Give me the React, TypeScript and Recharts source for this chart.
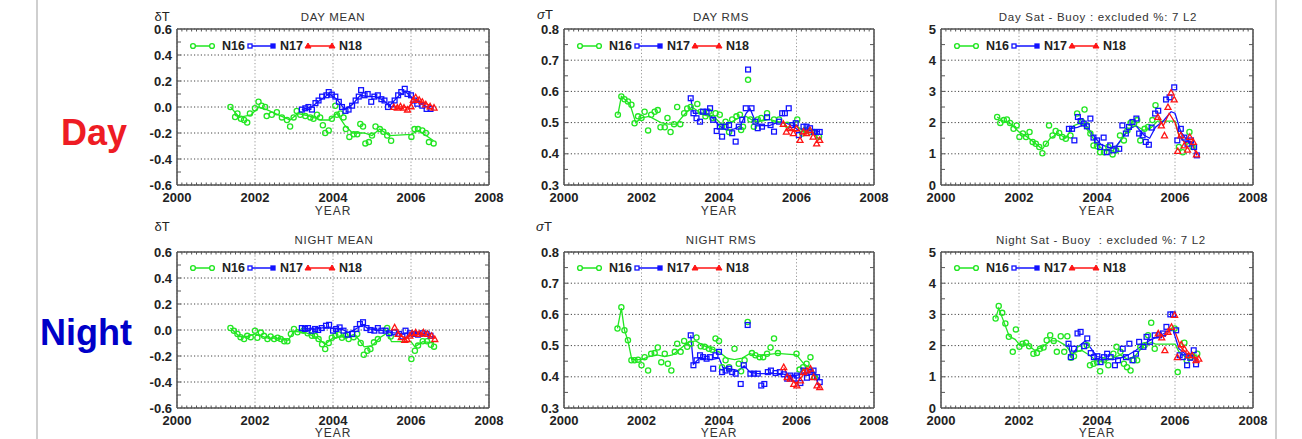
import React from 'react';
import { ComposedChart, Line, Scatter, XAxis, YAxis, CartesianGrid, ReferenceLine } from 'recharts';

// ---------- axis config ----------
const YEAR_TICKS = [2000, 2002, 2004, 2006, 2008];
const MEAN_TICKS = [-0.6, -0.4, -0.2, 0.0, 0.2, 0.4, 0.6];
const MEAN_MINOR = [-0.5, -0.4, -0.3, -0.2, -0.1, 0, 0.1, 0.2, 0.3, 0.4, 0.5];
const RMS_TICKS = [0.3, 0.4, 0.5, 0.6, 0.7, 0.8];
const RMS_MINOR = [0.35, 0.4, 0.45, 0.5, 0.55, 0.6, 0.65, 0.7, 0.75];
const SAT_TICKS = [0, 1, 2, 3, 4, 5];
const SAT_MINOR = [0.5, 1, 1.5, 2, 2.5, 3, 3.5, 4, 4.5];
const MINOR_X = Array.from({ length: 63 }, (_, i) => 2000 + (i + 1) * 0.125);

// ---------- DAY MEAN ----------
const dayMeanN16 = [[2001.37,0.0],[2001.49,-0.077],[2001.55,-0.05],[2001.64,-0.09],[2001.72,-0.1],[2001.8,-0.12],[2001.87,-0.05],[2002.0,-0.01],[2002.09,0.04],[2002.17,0.01],[2002.26,0.0],[2002.3,-0.07],[2002.43,-0.06],[2002.56,-0.04],[2002.69,-0.08],[2002.82,-0.1],[2002.9,-0.15],[2002.99,-0.08],[2003.07,-0.03],[2003.16,-0.06],[2003.29,-0.07],[2003.42,-0.08],[2003.5,-0.09],[2003.59,-0.06],[2003.67,-0.08],[2003.74,-0.14],[2003.8,-0.2],[2003.89,-0.18],[2003.97,-0.09],[2004.06,0.01],[2004.1,-0.06],[2004.19,-0.05],[2004.27,-0.08],[2004.33,-0.17],[2004.42,-0.23],[2004.53,-0.21],[2004.62,-0.21],[2004.7,-0.13],[2004.77,-0.15],[2004.83,-0.28],[2004.92,-0.27],[2005.0,-0.22],[2005.09,-0.15],[2005.2,-0.17],[2005.29,-0.19],[2005.39,-0.22],[2005.49,-0.26],[2006.01,-0.23],[2006.09,-0.17],[2006.18,-0.17],[2006.29,-0.18],[2006.38,-0.2],[2006.46,-0.27],[2006.58,-0.28]];
const dayMeanN16Line = [[2001.37,0.0],[2001.6,-0.08],[2001.9,-0.06],[2002.1,0.0],[2002.3,-0.02],[2002.6,-0.06],[2002.9,-0.1],[2003.1,-0.05],[2003.4,-0.07],[2003.7,-0.1],[2003.9,-0.1],[2004.1,-0.05],[2004.3,-0.14],[2004.5,-0.2],[2004.8,-0.2],[2005.0,-0.22],[2005.2,-0.17],[2005.45,-0.22],[2006.0,-0.21],[2006.2,-0.18],[2006.58,-0.26]];
const dayMeanN17 = [[2003.2,-0.02],[2003.29,-0.01],[2003.37,0.0],[2003.46,-0.02],[2003.55,0.03],[2003.63,0.05],[2003.72,0.08],[2003.83,0.09],[2003.89,0.115],[2003.97,0.095],[2004.06,0.08],[2004.15,0.04],[2004.23,0.0],[2004.32,-0.03],[2004.4,-0.02],[2004.49,0.01],[2004.58,0.05],[2004.66,0.08],[2004.72,0.13],[2004.81,0.09],[2004.89,0.1],[2004.98,0.04],[2005.06,0.08],[2005.15,0.09],[2005.24,0.06],[2005.32,0.05],[2005.41,0.0],[2005.49,0.02],[2005.58,0.05],[2005.67,0.09],[2005.75,0.115],[2005.84,0.14],[2005.91,0.1],[2006.0,0.09],[2006.08,0.05],[2006.16,0.025],[2006.29,0.01],[2006.4,-0.015],[2006.5,-0.015]];
const dayMeanN17Line = [[2003.2,-0.02],[2003.45,0.0],[2003.7,0.06],[2003.9,0.1],[2004.1,0.06],[2004.3,-0.02],[2004.5,0.02],[2004.7,0.09],[2004.9,0.08],[2005.1,0.08],[2005.3,0.05],[2005.45,0.01],[2005.7,0.09],[2005.85,0.12],[2006.0,0.08],[2006.2,0.03],[2006.5,-0.01]];
const dayMeanN18 = [[2005.56,0.0],[2005.65,-0.005],[2005.73,0.005],[2005.82,-0.005],[2005.91,-0.02],[2006.0,0.005],[2006.06,0.055],[2006.12,0.075],[2006.21,0.055],[2006.29,0.04],[2006.38,0.02],[2006.49,0.005],[2006.59,-0.005]];
const dayMeanN18Line = [[2005.56,0.0],[2005.8,0.0],[2005.95,-0.005],[2006.1,0.06],[2006.3,0.035],[2006.59,0.0]];

// ---------- DAY RMS ----------
const dayRmsN16 = [[2001.39,0.525],[2001.48,0.584],[2001.56,0.575],[2001.65,0.568],[2001.74,0.557],[2001.82,0.498],[2001.91,0.52],[2002.0,0.515],[2002.08,0.535],[2002.17,0.475],[2002.25,0.525],[2002.34,0.535],[2002.42,0.54],[2002.49,0.485],[2002.6,0.485],[2002.67,0.515],[2002.75,0.47],[2002.84,0.495],[2002.92,0.55],[2003.0,0.495],[2003.1,0.53],[2003.18,0.545],[2003.27,0.55],[2003.44,0.56],[2003.53,0.535],[2003.65,0.52],[2003.74,0.535],[2003.83,0.515],[2003.91,0.53],[2004.02,0.525],[2004.08,0.487],[2004.17,0.503],[2004.26,0.47],[2004.34,0.51],[2004.45,0.52],[2004.54,0.525],[2004.57,0.476],[2004.62,0.487],[2004.75,0.637],[2004.81,0.51],[2004.9,0.487],[2005.0,0.51],[2005.09,0.515],[2005.24,0.53],[2005.42,0.51],[2005.55,0.51],[2005.76,0.493],[2006.02,0.51],[2006.15,0.465],[2006.23,0.476],[2006.36,0.47],[2006.45,0.47],[2006.58,0.455]];
const dayRmsN16Line = [[2001.39,0.525],[2001.48,0.584],[2001.7,0.56],[2001.85,0.5],[2002.0,0.515],[2002.2,0.52],[2002.5,0.5],[2002.7,0.495],[2002.9,0.495],[2003.1,0.525],[2003.3,0.55],[2003.6,0.525],[2003.9,0.515],[2004.1,0.49],[2004.3,0.5],[2004.5,0.515],[2004.7,0.52],[2004.9,0.505],[2005.1,0.505],[2005.3,0.51],[2005.6,0.5],[2005.9,0.5],[2006.1,0.48],[2006.3,0.47],[2006.58,0.46]];
const dayRmsN17 = [[2003.27,0.578],[2003.34,0.53],[2003.42,0.514],[2003.51,0.503],[2003.59,0.535],[2003.68,0.535],[2003.77,0.546],[2003.85,0.509],[2003.94,0.473],[2004.02,0.487],[2004.08,0.455],[2004.17,0.487],[2004.26,0.492],[2004.34,0.466],[2004.43,0.439],[2004.51,0.487],[2004.6,0.509],[2004.69,0.546],[2004.75,0.67],[2004.84,0.546],[2004.94,0.503],[2005.0,0.482],[2005.11,0.487],[2005.24,0.517],[2005.33,0.492],[2005.42,0.471],[2005.55,0.503],[2005.63,0.53],[2005.7,0.53],[2005.8,0.546],[2005.89,0.492],[2005.98,0.498],[2006.06,0.46],[2006.18,0.487],[2006.26,0.487],[2006.35,0.482],[2006.45,0.47],[2006.53,0.47],[2006.6,0.47]];
const dayRmsN17Line = [[2003.27,0.578],[2003.34,0.53],[2003.6,0.53],[2003.8,0.52],[2004.0,0.49],[2004.2,0.475],[2004.4,0.48],[2004.55,0.49],[2004.7,0.53],[2004.8,0.545],[2004.95,0.5],[2005.1,0.49],[2005.3,0.49],[2005.5,0.5],[2005.7,0.5],[2005.9,0.49],[2006.1,0.47],[2006.3,0.48],[2006.6,0.47]];
const dayRmsN18 = [[2005.66,0.496],[2005.74,0.471],[2005.83,0.482],[2005.92,0.466],[2006.0,0.482],[2006.09,0.444],[2006.18,0.471],[2006.26,0.466],[2006.35,0.476],[2006.43,0.455],[2006.52,0.433],[2006.6,0.444]];
const dayRmsN18Line = [[2005.66,0.5],[2005.8,0.48],[2006.0,0.47],[2006.2,0.465],[2006.4,0.47],[2006.6,0.445]];

// ---------- DAY SAT - BUOY ----------
const daySatN16 = [[2001.44,2.18],[2001.52,1.99],[2001.61,2.08],[2001.69,2.1],[2001.77,1.99],[2001.86,1.8],[2001.94,1.91],[2002.01,1.54],[2002.1,1.65],[2002.18,1.54],[2002.27,1.7],[2002.35,1.38],[2002.43,1.32],[2002.52,1.22],[2002.6,1.02],[2002.69,1.32],[2002.77,1.91],[2002.86,1.59],[2002.94,1.73],[2003.03,1.67],[2003.11,1.54],[2003.2,1.48],[2003.32,1.59],[2003.49,2.29],[2003.62,2.02],[2003.68,2.42],[2003.74,1.91],[2003.83,1.65],[2003.91,1.27],[2004.0,1.24],[2004.08,1.05],[2004.18,1.05],[2004.29,1.22],[2004.4,0.98],[2004.49,1.11],[2004.59,1.59],[2004.69,1.43],[2004.78,1.75],[2004.86,1.99],[2004.95,1.97],[2005.03,2.08],[2005.11,1.43],[2005.22,1.8],[2005.31,1.86],[2005.42,2.08],[2005.5,2.56],[2006.1,1.22],[2006.2,1.05],[2006.37,1.7],[2006.45,1.22]];
const daySatN16Line = [[2001.44,2.18],[2001.6,2.05],[2001.8,1.95],[2002.0,1.7],[2002.2,1.55],[2002.4,1.35],[2002.6,1.15],[2002.8,1.5],[2003.0,1.65],[2003.2,1.5],[2003.4,1.9],[2003.6,2.0],[2003.8,1.7],[2004.0,1.3],[2004.2,1.1],[2004.4,1.1],[2004.6,1.4],[2004.8,1.8],[2005.0,1.9],[2005.2,1.75],[2005.4,1.85],[2005.55,2.05],[2006.0,2.05],[2006.1,1.6],[2006.3,1.3],[2006.45,1.4]];
const daySatN17 = [[2003.28,1.8],[2003.36,1.8],[2003.42,1.43],[2003.51,2.18],[2003.58,2.05],[2003.66,1.97],[2003.74,1.88],[2003.83,2.13],[2003.91,1.52],[2004.0,1.43],[2004.08,1.22],[2004.17,1.52],[2004.25,1.05],[2004.34,1.27],[2004.42,1.11],[2004.57,1.16],[2004.65,1.91],[2004.74,1.65],[2004.82,1.86],[2004.91,2.02],[2005.01,2.13],[2005.08,1.65],[2005.17,1.59],[2005.25,1.38],[2005.33,1.29],[2005.4,1.84],[2005.49,2.29],[2005.57,2.38],[2005.77,2.74],[2005.86,2.81],[2005.98,3.13],[2006.06,1.43],[2006.15,1.8],[2006.24,1.52],[2006.32,1.32],[2006.41,1.43],[2006.49,1.22],[2006.56,0.95]];
const daySatN17Line = [[2003.28,1.8],[2003.5,1.85],[2003.7,1.95],[2003.9,1.6],[2004.1,1.3],[2004.3,1.2],[2004.5,1.25],[2004.7,1.6],[2004.9,1.85],[2005.0,1.9],[2005.2,1.6],[2005.35,1.5],[2005.5,1.85],[2005.7,2.05],[2005.9,2.35],[2006.0,2.3],[2006.15,1.7],[2006.3,1.45],[2006.45,1.35],[2006.56,0.95]];
const daySatN18 = [[2005.56,2.18],[2005.65,1.91],[2005.73,1.59],[2005.82,2.5],[2005.9,2.96],[2005.98,2.74],[2006.07,1.09],[2006.15,1.59],[2006.24,1.27],[2006.32,1.13],[2006.38,1.54],[2006.47,1.38],[2006.55,0.98]];
const daySatN18Line = [[2005.56,2.18],[2005.7,1.9],[2005.85,2.3],[2006.0,2.0],[2006.1,1.6],[2006.25,1.35],[2006.4,1.4],[2006.55,1.0]];

// ---------- NIGHT MEAN ----------
const nightMeanN16 = [[2001.37,0.015],[2001.46,-0.005],[2001.55,-0.03],[2001.63,-0.055],[2001.72,-0.07],[2001.8,-0.045],[2001.89,-0.055],[2002.0,-0.005],[2002.06,-0.06],[2002.15,-0.02],[2002.23,-0.045],[2002.32,-0.07],[2002.4,-0.05],[2002.49,-0.07],[2002.58,-0.06],[2002.66,-0.07],[2002.75,-0.087],[2002.83,-0.087],[2002.92,-0.03],[2003.0,0.008],[2003.09,-0.018],[2003.24,-0.005],[2003.35,-0.025],[2003.46,-0.045],[2003.54,-0.045],[2003.63,-0.07],[2003.72,-0.11],[2003.8,-0.146],[2003.89,-0.1],[2003.97,-0.06],[2004.06,-0.045],[2004.15,-0.035],[2004.23,-0.06],[2004.32,-0.045],[2004.4,-0.07],[2004.53,-0.055],[2004.62,-0.03],[2004.71,-0.1],[2004.79,-0.19],[2004.88,-0.16],[2004.96,-0.146],[2005.05,-0.095],[2005.15,-0.07],[2005.39,0.015],[2005.48,-0.05],[2006.01,-0.223],[2006.1,-0.16],[2006.18,-0.12],[2006.3,-0.087],[2006.41,-0.087],[2006.51,-0.113],[2006.59,-0.128]];
const nightMeanN16Line = [[2001.37,0.015],[2001.6,-0.05],[2001.8,-0.05],[2002.0,-0.03],[2002.3,-0.06],[2002.6,-0.065],[2002.85,-0.08],[2003.0,-0.01],[2003.3,-0.02],[2003.6,-0.06],[2003.8,-0.11],[2004.0,-0.06],[2004.3,-0.05],[2004.6,-0.05],[2004.8,-0.13],[2005.0,-0.12],[2005.2,-0.06],[2005.4,-0.02],[2005.5,-0.09],[2006.0,-0.09],[2006.1,-0.13],[2006.3,-0.09],[2006.59,-0.1]];
const nightMeanN17 = [[2003.2,0.015],[2003.28,0.008],[2003.36,0.015],[2003.45,-0.005],[2003.54,0.008],[2003.62,0.0],[2003.71,0.015],[2003.82,0.033],[2003.9,0.04],[2004.0,-0.005],[2004.08,0.008],[2004.17,0.02],[2004.27,-0.005],[2004.38,-0.036],[2004.49,-0.03],[2004.6,0.008],[2004.69,0.046],[2004.77,0.06],[2004.86,0.015],[2004.96,0.0],[2005.06,-0.005],[2005.15,0.015],[2005.24,-0.005],[2005.35,-0.005],[2005.44,-0.025],[2005.58,-0.018],[2005.69,-0.03],[2005.78,-0.05],[2005.86,-0.005],[2005.97,-0.025],[2006.08,-0.03],[2006.18,-0.036],[2006.29,-0.025],[2006.4,-0.03],[2006.5,-0.044]];
const nightMeanN17Line = [[2003.2,0.015],[2003.5,0.005],[2003.8,0.02],[2004.0,0.01],[2004.2,0.01],[2004.4,-0.02],[2004.6,0.01],[2004.75,0.04],[2004.9,0.01],[2005.1,0.0],[2005.3,-0.005],[2005.5,-0.02],[2005.8,-0.03],[2006.0,-0.02],[2006.3,-0.025],[2006.5,-0.04]];
const nightMeanN18 = [[2005.58,0.02],[2005.67,-0.03],[2005.75,-0.056],[2005.84,-0.077],[2005.9,-0.07],[2005.97,-0.044],[2006.03,-0.025],[2006.12,-0.018],[2006.21,-0.03],[2006.32,-0.018],[2006.42,-0.03],[2006.53,-0.044],[2006.61,-0.07]];
const nightMeanN18Line = [[2005.58,0.01],[2005.75,-0.05],[2005.9,-0.06],[2006.05,-0.03],[2006.3,-0.025],[2006.61,-0.06]];

// ---------- NIGHT RMS ----------
const nightRmsN16 = [[2001.38,0.555],[2001.48,0.623],[2001.56,0.549],[2001.65,0.517],[2001.74,0.453],[2001.82,0.453],[2001.91,0.455],[2002.0,0.437],[2002.08,0.463],[2002.17,0.42],[2002.25,0.474],[2002.34,0.476],[2002.42,0.494],[2002.51,0.447],[2002.6,0.474],[2002.68,0.442],[2002.77,0.42],[2002.86,0.48],[2002.92,0.506],[2003.01,0.48],[2003.1,0.515],[2003.18,0.496],[2003.27,0.506],[2003.42,0.526],[2003.53,0.498],[2003.63,0.496],[2003.74,0.49],[2003.83,0.487],[2003.91,0.523],[2004.0,0.515],[2004.08,0.431],[2004.17,0.453],[2004.26,0.431],[2004.4,0.49],[2004.51,0.442],[2004.57,0.418],[2004.66,0.453],[2004.74,0.576],[2004.85,0.476],[2004.94,0.469],[2005.05,0.463],[2005.14,0.463],[2005.24,0.474],[2005.33,0.494],[2005.42,0.523],[2005.52,0.476],[2006.0,0.474],[2006.08,0.423],[2006.17,0.431],[2006.26,0.442],[2006.36,0.463],[2006.47,0.399]];
const nightRmsN16Line = [[2001.38,0.555],[2001.48,0.62],[2001.56,0.55],[2001.65,0.515],[2001.75,0.455],[2002.0,0.455],[2002.2,0.465],[2002.4,0.47],[2002.6,0.465],[2002.8,0.47],[2003.0,0.49],[2003.2,0.51],[2003.4,0.515],[2003.6,0.5],[2003.8,0.49],[2004.0,0.48],[2004.2,0.46],[2004.4,0.455],[2004.6,0.46],[2004.8,0.475],[2005.0,0.465],[2005.2,0.47],[2005.5,0.475],[2006.0,0.47],[2006.2,0.44],[2006.4,0.425],[2006.55,0.395]];
const nightRmsN17 = [[2003.27,0.533],[2003.34,0.437],[2003.42,0.453],[2003.51,0.469],[2003.59,0.463],[2003.68,0.458],[2003.77,0.463],[2003.85,0.426],[2003.91,0.469],[2004.0,0.48],[2004.08,0.415],[2004.17,0.42],[2004.26,0.426],[2004.34,0.415],[2004.43,0.41],[2004.56,0.377],[2004.64,0.437],[2004.74,0.566],[2004.81,0.41],[2004.9,0.41],[2005.0,0.41],[2005.09,0.372],[2005.17,0.377],[2005.26,0.415],[2005.34,0.42],[2005.46,0.412],[2005.57,0.415],[2005.67,0.408],[2005.76,0.394],[2005.84,0.404],[2005.93,0.394],[2006.01,0.404],[2006.1,0.38],[2006.18,0.42],[2006.27,0.397],[2006.36,0.415],[2006.44,0.42],[2006.53,0.399],[2006.6,0.383]];
const nightRmsN17Line = [[2003.27,0.533],[2003.34,0.44],[2003.5,0.46],[2003.8,0.455],[2004.0,0.46],[2004.1,0.43],[2004.3,0.425],[2004.5,0.42],[2004.65,0.435],[2004.8,0.415],[2005.0,0.41],[2005.2,0.41],[2005.4,0.41],[2005.6,0.41],[2005.8,0.405],[2006.0,0.405],[2006.2,0.41],[2006.45,0.415],[2006.6,0.39]];
const nightRmsN18 = [[2005.67,0.431],[2005.76,0.399],[2005.84,0.394],[2005.93,0.377],[2006.01,0.372],[2006.1,0.388],[2006.18,0.415],[2006.27,0.42],[2006.36,0.426],[2006.44,0.399],[2006.53,0.372],[2006.6,0.367]];
const nightRmsN18Line = [[2005.67,0.43],[2005.8,0.4],[2006.0,0.38],[2006.2,0.41],[2006.4,0.42],[2006.6,0.37]];

// ---------- NIGHT SAT - BUOY ----------
const nightSatN16 = [[2001.4,2.87],[2001.48,3.27],[2001.57,3.05],[2001.65,2.71],[2001.74,2.28],[2001.84,1.8],[2001.92,2.52],[2002.01,1.96],[2002.09,2.06],[2002.18,2.09],[2002.26,1.98],[2002.37,1.74],[2002.46,1.76],[2002.54,1.9],[2002.63,1.94],[2002.71,2.17],[2002.8,2.33],[2002.89,2.15],[2002.97,1.8],[2003.07,2.3],[2003.16,1.8],[2003.24,2.3],[2003.33,1.61],[2003.41,1.66],[2003.55,1.9],[2003.74,2.01],[2003.82,1.37],[2003.91,1.42],[2004.0,1.47],[2004.08,1.18],[2004.18,1.53],[2004.29,1.37],[2004.42,1.74],[2004.5,1.96],[2004.6,1.8],[2004.69,1.42],[2004.77,1.31],[2004.86,1.2],[2004.94,1.53],[2005.03,1.53],[2005.11,1.96],[2005.22,2.01],[2005.31,2.33],[2005.39,2.73],[2005.48,1.9],[2005.99,2.55],[2006.07,1.15],[2006.24,2.09],[2006.3,1.53],[2006.41,1.63],[2006.57,1.74]];
const nightSatN16Line = [[2001.4,2.87],[2001.48,3.2],[2001.6,2.8],[2001.75,2.3],[2001.9,2.2],[2002.0,2.05],[2002.2,2.05],[2002.4,1.85],[2002.6,1.95],[2002.8,2.15],[2003.0,2.15],[2003.2,2.0],[2003.35,1.75],[2003.6,1.85],[2003.8,1.7],[2004.0,1.5],[2004.2,1.5],[2004.4,1.6],[2004.6,1.7],[2004.8,1.55],[2005.0,1.7],[2005.2,2.0],[2005.4,2.1],[2005.5,2.05],[2006.0,2.05],[2006.1,1.8],[2006.3,1.6],[2006.57,1.7]];
const nightSatN17 = [[2003.27,2.06],[2003.33,1.63],[2003.41,1.9],[2003.5,2.39],[2003.58,2.44],[2003.67,1.98],[2003.75,2.23],[2003.84,1.76],[2003.92,1.63],[2004.01,1.66],[2004.09,1.47],[2004.18,1.63],[2004.26,1.74],[2004.35,1.63],[2004.46,1.37],[2004.54,1.53],[2004.66,1.9],[2004.74,1.63],[2004.83,2.06],[2004.91,1.53],[2005.0,1.74],[2005.08,2.12],[2005.19,1.96],[2005.27,2.28],[2005.36,2.12],[2005.48,2.33],[2005.59,2.33],[2005.69,2.39],[2005.78,2.6],[2005.88,3.0],[2005.95,3.0],[2006.03,2.49],[2006.12,1.69],[2006.2,1.63],[2006.31,1.37],[2006.39,1.61],[2006.48,1.85],[2006.54,1.4]];
const nightSatN17Line = [[2003.27,2.06],[2003.33,1.65],[2003.5,1.95],[2003.7,2.15],[2003.85,1.9],[2004.0,1.65],[2004.2,1.6],[2004.4,1.55],[2004.6,1.6],[2004.8,1.7],[2005.0,1.85],[2005.2,2.05],[2005.4,2.2],[2005.6,2.3],[2005.8,2.45],[2005.95,2.5],[2006.1,1.9],[2006.3,1.7],[2006.45,1.75],[2006.54,1.5]];
const nightSatN18 = [[2005.57,2.39],[2005.66,2.26],[2005.74,1.85],[2005.82,2.44],[2005.91,2.6],[2005.99,2.98],[2006.06,1.63],[2006.16,2.04],[2006.24,1.9],[2006.35,1.69],[2006.44,1.69],[2006.54,1.53],[2006.61,1.58]];
const nightSatN18Line = [[2005.57,2.35],[2005.75,2.3],[2005.9,2.55],[2006.0,2.45],[2006.15,1.95],[2006.3,1.75],[2006.45,1.65],[2006.61,1.55]];

// ---------- styles ----------
const GREEN = '#22e622';
const BLUE = '#1212ff';
const RED = '#ff1414';
const FONT = '"Liberation Sans", Arial, sans-serif';
const FRAME_C = '#555';

const toPts = (a: number[][]) => a.map(([x, y]) => ({ x, y }));

const circleShape = (p: any) => (
  <circle cx={p.cx} cy={p.cy} r={2.6} fill="none" stroke={GREEN} strokeWidth={1.3} />
);
const squareShape = (p: any) => (
  <rect x={p.cx - 2.4} y={p.cy - 2.4} width={4.8} height={4.8} fill="none" stroke={BLUE} strokeWidth={1.3} />
);
const triShape = (p: any) => (
  <path d={`M${p.cx},${p.cy - 3} L${p.cx + 3},${p.cy + 2.4} L${p.cx - 3},${p.cy + 2.4} Z`} fill="none" stroke={RED} strokeWidth={1.3} />
);

type PanelProps = {
  left: number; top: number; w: number; h: number;
  domain: [number, number]; ticks: number[]; minor: number[]; digits: number;
  s16: number[][]; l16: number[][]; s17: number[][]; l17: number[][]; s18: number[][]; l18: number[][];
};

const YW = 45;
const PAD_R = 22;
const PAD_T = 12;

function Panel(props: PanelProps) {
  const { left, top, w, h, domain, ticks, minor, digits } = props;
  const [y0, y1] = domain;
  const dyTick = ((y1 - y0) * 2.5) / h;   // x-minor tick length in data units (2.5px)
  const dxTick = (8 * 4) / w;             // y-minor tick length in years (4px)
  const tickStyle = { fontFamily: FONT, fontSize: 13, fontWeight: 700, fill: '#222' };
  const seg = (a: { x: number; y: number }, b: { x: number; y: number }, k: string) => (
    <ReferenceLine key={k} segment={[a, b]} stroke={FRAME_C} strokeWidth={1} ifOverflow="visible" />
  );
  return (
    <div style={{ position: 'absolute', left: left - YW, top: top - PAD_T }}>
      <ComposedChart width={w + YW + PAD_R} height={h + PAD_T + 30} margin={{ top: PAD_T, right: PAD_R, left: 0, bottom: 10 }}>
        <XAxis type="number" dataKey="x" domain={[2000, 2008]} ticks={YEAR_TICKS} interval={0}
          tickSize={0} tickMargin={8} axisLine={false} tickLine={false} height={20} tick={tickStyle} allowDataOverflow />
        <YAxis type="number" dataKey="y" domain={domain} ticks={ticks} interval={0}
          tickSize={0} tickMargin={5} axisLine={false} tickLine={false} width={YW}
          tick={tickStyle} tickFormatter={(v: number) => v.toFixed(digits)} allowDataOverflow />
        <CartesianGrid vertical={false} stroke="#444" strokeDasharray="1.2 2.2" />
        <CartesianGrid horizontal={false} stroke="#999" strokeDasharray="1.2 2.2" />
        {MINOR_X.map((t, i) => seg({ x: t, y: y1 }, { x: t, y: y1 - dyTick }, 'mt' + i))}
        {MINOR_X.map((t, i) => seg({ x: t, y: y0 }, { x: t, y: y0 + dyTick }, 'mb' + i))}
        {minor.map((t, i) => seg({ x: 2000, y: t }, { x: 2000 + dxTick, y: t }, 'ml' + i))}
        {minor.map((t, i) => seg({ x: 2008, y: t }, { x: 2008 - dxTick, y: t }, 'mr' + i))}
        <ReferenceLine y={y1} stroke={FRAME_C} strokeWidth={1.6} ifOverflow="visible" />
        <ReferenceLine y={y0} stroke={FRAME_C} strokeWidth={1.6} ifOverflow="visible" />
        <ReferenceLine x={2000} stroke={FRAME_C} strokeWidth={1.6} ifOverflow="visible" />
        <ReferenceLine x={2008} stroke={FRAME_C} strokeWidth={1.6} ifOverflow="visible" />
        <Line data={toPts(props.l16)} dataKey="y" stroke={GREEN} strokeWidth={1.3} dot={false} isAnimationActive={false} type="linear" />
        <Scatter data={toPts(props.s16)} fill={GREEN} shape={circleShape} isAnimationActive={false} />
        <Line data={toPts(props.l17)} dataKey="y" stroke={BLUE} strokeWidth={1.3} dot={false} isAnimationActive={false} type="linear" />
        <Scatter data={toPts(props.s17)} fill={BLUE} shape={squareShape} isAnimationActive={false} />
        <Line data={toPts(props.l18)} dataKey="y" stroke={RED} strokeWidth={1.3} dot={false} isAnimationActive={false} type="linear" />
        <Scatter data={toPts(props.s18)} fill={RED} shape={triShape} isAnimationActive={false} />
      </ComposedChart>
    </div>
  );
}

function LegendSvg({ x, y }: { x: number; y: number }) {
  const t = { fontFamily: FONT, fontSize: 12.5, fontWeight: 700, fill: '#222' } as any;
  return (
    <g>
      <line x1={x + 16} y1={y} x2={x + 35} y2={y} stroke={GREEN} strokeWidth={1.5} />
      <circle cx={x + 16} cy={y} r={2.4} fill="#fff" stroke={GREEN} strokeWidth={1.4} />
      <circle cx={x + 35} cy={y} r={2.4} fill="#fff" stroke={GREEN} strokeWidth={1.4} />
      <text x={x + 45} y={y} dominantBaseline="central" style={t}>N16</text>
      <line x1={x + 73} y1={y} x2={x + 96} y2={y} stroke={BLUE} strokeWidth={1.5} />
      <rect x={x + 71} y={y - 2} width={4} height={4} fill="#fff" stroke={BLUE} strokeWidth={1.3} />
      <rect x={x + 94} y={y - 2} width={4} height={4} fill={BLUE} stroke={BLUE} strokeWidth={1.3} />
      <text x={x + 103} y={y} dominantBaseline="central" style={t}>N17</text>
      <line x1={x + 131} y1={y} x2={x + 155} y2={y} stroke={RED} strokeWidth={1.5} />
      <path d={`M${x + 131},${y - 3} L${x + 134},${y + 2} L${x + 128},${y + 2} Z`} fill={RED} stroke={RED} strokeWidth={1} />
      <path d={`M${x + 155},${y - 3} L${x + 158},${y + 2} L${x + 152},${y + 2} Z`} fill={RED} stroke={RED} strokeWidth={1} />
      <text x={x + 162} y={y} dominantBaseline="central" style={t}>N18</text>
    </g>
  );
}

export default function App() {
  const title = { fontFamily: FONT, fontSize: 11.5, fill: '#333', letterSpacing: 0.7 } as any;
  const sym = { fontFamily: FONT, fontSize: 13, fill: '#222' } as any;
  const yr = { fontFamily: FONT, fontSize: 12, fill: '#333', letterSpacing: 1 } as any;
  const big = { fontFamily: FONT, fontSize: 36, fontWeight: 700 } as any;
  const TOP1 = 29, TOP2 = 252, H = 156;
  const X1 = 177, X2 = 564, X3 = 941, W = 312;
  return (
    <div style={{ position: 'absolute', left: 0, top: 0, width: 1302, height: 439, background: '#fff', overflow: 'hidden' }}>
      <Panel left={X1} top={TOP1} w={W} h={H} domain={[-0.6, 0.6]} ticks={MEAN_TICKS} minor={MEAN_MINOR} digits={1}
        s16={dayMeanN16} l16={dayMeanN16Line} s17={dayMeanN17} l17={dayMeanN17Line} s18={dayMeanN18} l18={dayMeanN18Line} />
      <Panel left={X2} top={TOP1} w={310} h={H} domain={[0.3, 0.8]} ticks={RMS_TICKS} minor={RMS_MINOR} digits={1}
        s16={dayRmsN16} l16={dayRmsN16Line} s17={dayRmsN17} l17={dayRmsN17Line} s18={dayRmsN18} l18={dayRmsN18Line} />
      <Panel left={X3} top={TOP1} w={W} h={H} domain={[0, 5]} ticks={SAT_TICKS} minor={SAT_MINOR} digits={0}
        s16={daySatN16} l16={daySatN16Line} s17={daySatN17} l17={daySatN17Line} s18={daySatN18} l18={daySatN18Line} />
      <Panel left={X1} top={TOP2} w={W} h={H} domain={[-0.6, 0.6]} ticks={MEAN_TICKS} minor={MEAN_MINOR} digits={1}
        s16={nightMeanN16} l16={nightMeanN16Line} s17={nightMeanN17} l17={nightMeanN17Line} s18={nightMeanN18} l18={nightMeanN18Line} />
      <Panel left={X2} top={TOP2} w={310} h={H} domain={[0.3, 0.8]} ticks={RMS_TICKS} minor={RMS_MINOR} digits={1}
        s16={nightRmsN16} l16={nightRmsN16Line} s17={nightRmsN17} l17={nightRmsN17Line} s18={nightRmsN18} l18={nightRmsN18Line} />
      <Panel left={X3} top={TOP2} w={W} h={H} domain={[0, 5]} ticks={SAT_TICKS} minor={SAT_MINOR} digits={0}
        s16={nightSatN16} l16={nightSatN16Line} s17={nightSatN17} l17={nightSatN17Line} s18={nightSatN18} l18={nightSatN18Line} />

      <svg width={1302} height={439} style={{ position: 'absolute', left: 0, top: 0, pointerEvents: 'none' }}>
        <rect x={36} y={0} width={2} height={439} fill="#cfcfcf" />
        <rect x={1275} y={0} width={2} height={439} fill="#cfcfcf" />

        <text x={61} y={145} style={{ ...big, fill: '#ee1c24' }}>Day</text>
        <text x={40} y={345} style={{ ...big, fill: '#0000c8' }}>Night</text>

        <text x={162} y={16} textAnchor="middle" dominantBaseline="central" style={sym}>δT</text>
        <text x={545} y={14} textAnchor="middle" dominantBaseline="central" style={sym}><tspan fontStyle="italic">σ</tspan>T</text>
        <text x={162} y={226} textAnchor="middle" dominantBaseline="central" style={sym}>δT</text>
        <text x={544} y={226} textAnchor="middle" dominantBaseline="central" style={sym}><tspan fontStyle="italic">σ</tspan>T</text>

        <text x={333} y={17} textAnchor="middle" dominantBaseline="central" style={title}>DAY MEAN</text>
        <text x={721} y={17} textAnchor="middle" dominantBaseline="central" style={title}>DAY RMS</text>
        <text x={1098} y={17} textAnchor="middle" dominantBaseline="central" style={title}>Day Sat - Buoy : excluded %: 7 L2</text>
        <text x={334} y={240} textAnchor="middle" dominantBaseline="central" style={title}>NIGHT MEAN</text>
        <text x={721} y={240} textAnchor="middle" dominantBaseline="central" style={title}>NIGHT RMS</text>
        <text x={1101} y={240} textAnchor="middle" dominantBaseline="central" style={title} xmlSpace="preserve">Night Sat - Buoy  : excluded %: 7 L2</text>

        <text x={333} y={211} textAnchor="middle" dominantBaseline="central" style={yr}>YEAR</text>
        <text x={719} y={211} textAnchor="middle" dominantBaseline="central" style={yr}>YEAR</text>
        <text x={1097} y={211} textAnchor="middle" dominantBaseline="central" style={yr}>YEAR</text>
        <text x={333} y={433} textAnchor="middle" dominantBaseline="central" style={yr}>YEAR</text>
        <text x={719} y={433} textAnchor="middle" dominantBaseline="central" style={yr}>YEAR</text>
        <text x={1097} y={433} textAnchor="middle" dominantBaseline="central" style={yr}>YEAR</text>

        <LegendSvg x={X1} y={TOP1 + 17} />
        <LegendSvg x={X2} y={TOP1 + 17} />
        <LegendSvg x={X3} y={TOP1 + 17} />
        <LegendSvg x={X1} y={TOP2 + 16} />
        <LegendSvg x={X2} y={TOP2 + 16} />
        <LegendSvg x={X3} y={TOP2 + 16} />
      </svg>
    </div>
  );
}
